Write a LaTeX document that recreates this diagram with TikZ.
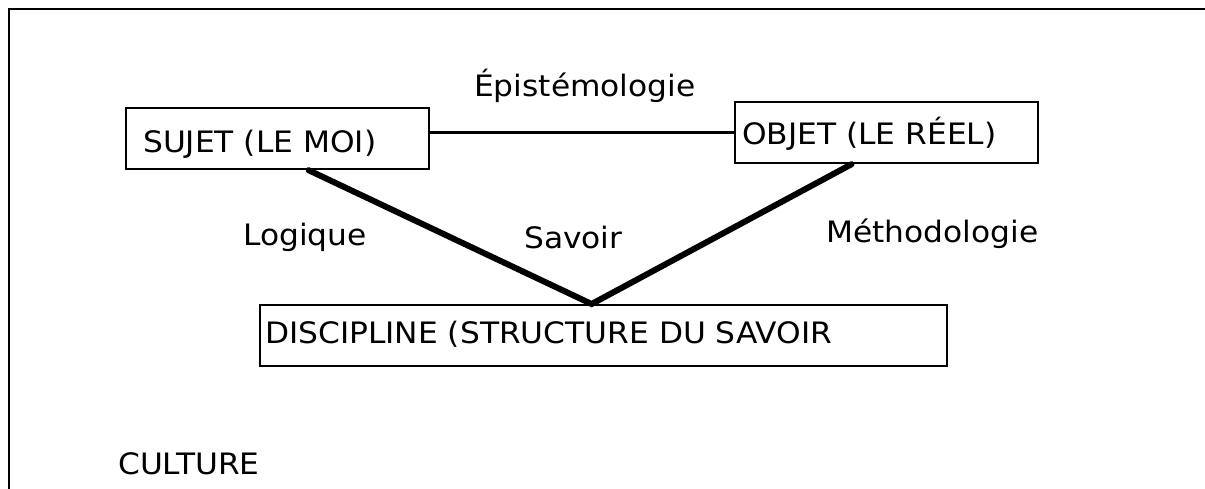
\documentclass[tikz,border=0pt]{standalone}
\usepackage{fontspec}
\newfontfamily\labfont[FakeStretch=1.06]{DejaVu Sans}
\begin{document}
\begin{tikzpicture}[x=1pt,y=-1pt,
  box/.style={draw=black,line width=2.2pt,minimum width=#1,minimum height=61pt,inner sep=0pt,anchor=north west},
  lab/.style={font=\labfont\fontsize{29.5}{34}\selectfont,inner sep=0pt,anchor=base west},
  thin/.style={line width=2.6pt},
  thick/.style={line width=6pt,line cap=round}]
\useasboundingbox (0,0) rectangle (1205,489);
% open frame: top and left edges only
\coordinate (tl) at (9,9);
\coordinate (tr) at (1205,9);
\coordinate (bl) at (9,489);
\draw[line width=2.2pt] (tr) -- (tl) -- (bl);
% boxes
\node[box=303pt] (sujet) at (125,107) {};
\node[box=303pt] (objet) at (734,101) {};
\node[box=687pt] (disc) at (259,304) {};
% texts
\node[lab] (tsujet) at (143,153) {SUJET (LE MOI)};
\node[lab] (tobjet) at (742,145) {OBJET (LE RÉEL)};
\node[lab] (tdisc) at (265,343) {DISCIPLINE (STRUCTURE DU SAVOIR};
\node[lab] (epi) at (474,97) {Épistémologie};
\node[lab] (logi) at (243,246) {Logique};
\node[lab] (sav) at (524,248) {Savoir};
\node[lab] (meth) at (826,243) {Méthodologie};
\node[lab] (cult) at (118,474) {CULTURE};
% connectors
\draw[thin] (sujet.east |- objet.west) -- (objet.west);
\coordinate (apex) at ([xshift=-12pt]disc.north);
\draw[thick] ([xshift=31pt]sujet.south) -- (apex) -- ([xshift=-35pt]objet.south);
\end{tikzpicture}
\end{document}
